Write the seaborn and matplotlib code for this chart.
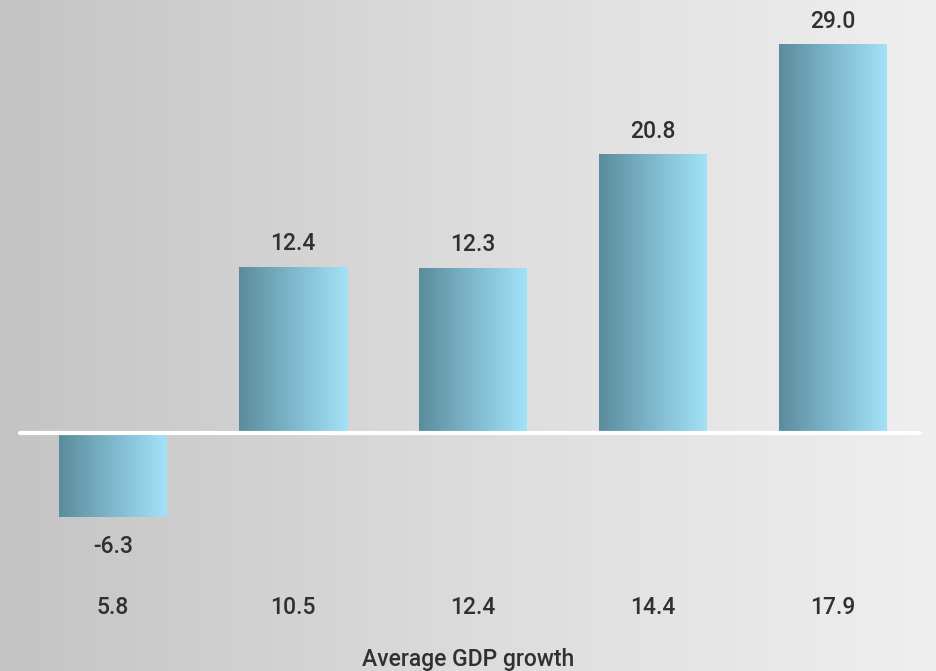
import numpy as np
import pandas as pd
import matplotlib
matplotlib.use("Agg")
import matplotlib.pyplot as plt
import seaborn as sns
from matplotlib.colors import LinearSegmentedColormap

categories = ["5.8", "10.5", "12.4", "14.4", "17.9"]
values = [-6.3, 12.4, 12.3, 20.8, 29.0]
value_labels = ["-6.3", "12.4", "12.3", "20.8", "29.0"]
x_title = "Average GDP growth"

sns.set_theme(style="white")
plt.rcParams['font.family'] = ['Roboto', 'DejaVu Sans']

W, H = 936, 671
fig = plt.figure(figsize=(W / 100, H / 100), dpi=100)

# background gradient
bg = fig.add_axes([0, 0, 1, 1], zorder=0)
bg_cmap = LinearSegmentedColormap.from_list("bg", ["#c4c4c4", "#dcdcdc", "#efefef"])
bg.imshow(np.linspace(0, 1, 256)[None, :], aspect="auto", cmap=bg_cmap,
          extent=[0, 1, 0, 1])
bg.set_axis_off()

bottom_px = 585
ax = fig.add_axes([0, 1 - bottom_px / H, 1, bottom_px / H], zorder=1)
ax.patch.set_alpha(0)

df = pd.DataFrame({"cat": categories, "val": values})
sns.barplot(data=df, x="cat", y="val", order=categories, width=0.6,
            color="#7fbfd5", ax=ax)

px_per_unit = 13.38
zero_px = 433

bar_cmap = LinearSegmentedColormap.from_list("bar", ["#5a8c9c", "#7fb8cc", "#a2e2f7"])
grad = np.linspace(0, 1, 256)[None, :]
fs = 16.5
txt_kw = dict(ha="center", va="center", fontsize=fs, color="#303030",
              fontweight="medium", zorder=4)
for p, v, lab in zip(ax.patches, values, value_labels):
    x0, y0 = p.get_x(), p.get_y()
    w, h = p.get_width(), p.get_height()
    p.set_facecolor("none")
    p.set_edgecolor("none")
    ax.imshow(grad, aspect="auto", cmap=bar_cmap,
              extent=[x0, x0 + w, min(y0, y0 + h), max(y0, y0 + h)], zorder=2)
    xc = x0 + w / 2
    off = 17 if v >= 0 else -21
    ax.annotate(lab, (xc, v), xytext=(0, off), textcoords="offset points", **txt_kw)

ax.set_xlim(-113 / 180, (W - 113) / 180)
ax.set_ylim(-(bottom_px - zero_px) / px_per_unit, zero_px / px_per_unit)

ax.axhline(0, xmin=20 / W, xmax=920 / W, color="white", lw=3, zorder=3)

for s in ax.spines.values():
    s.set_visible(False)
ax.set_yticks([])
ax.tick_params(axis="x", length=0, pad=8, labelsize=fs, labelcolor="#303030")
for t in ax.get_xticklabels():
    t.set_fontweight("medium")
ax.set_ylabel("")
ax.set_xlabel(x_title, fontsize=fs, color="#303030", fontweight="medium", labelpad=21)

fig.savefig("out.png", dpi=100)
